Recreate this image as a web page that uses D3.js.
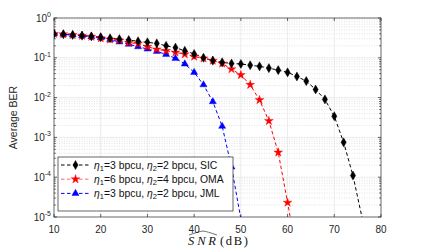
<!DOCTYPE html>
<html><head><meta charset="utf-8">
<script src="https://cdn.jsdelivr.net/npm/d3@7"></script>
<style>body{margin:0;background:#fff}svg{display:block}</style>
</head><body>
<svg id="c" width="422" height="249"></svg>
<script>
const snr = [10,12,14,16,18,20,22,24,26,28,30,32,34,36,38,40,42,44,46,48,50,52,54,56,58,60,62,64,66,68,70,72,74,76];
const berSIC = [0.40,0.39,0.375,0.36,0.345,0.33,0.31,0.295,0.28,0.26,0.245,0.23,0.20,0.18,0.15,0.125,0.10,0.085,0.077,0.072,0.07,0.065,0.061,0.055,0.049,0.043,0.034,0.026,0.016,0.009,0.0034,0.00075,0.00011,0.000009];
const snrOMA = [10,12,14,16,18,20,22,24,26,28,30,32,34,36,38,40,42,44,46,48,50,52,54,56,58,60,62];
const berOMA = [0.40,0.39,0.375,0.36,0.34,0.31,0.29,0.275,0.24,0.226,0.19,0.163,0.15,0.137,0.123,0.107,0.097,0.085,0.072,0.052,0.037,0.021,0.0087,0.0026,0.00042,0.000023,0.0000012];
const snrJML = [10,12,14,16,18,20,22,24,26,28,30,32,34,36,38,40,42,44,46,48,50];
const berJML = [0.40,0.39,0.375,0.36,0.34,0.32,0.285,0.25,0.22,0.19,0.166,0.145,0.122,0.097,0.07,0.043,0.021,0.0079,0.0019,0.00018,0.000009];
const xTicks = [10,20,30,40,50,60,70,80];
const yExps = [0,-1,-2,-3,-4,-5];
const legendLabels = [["3","2","SIC"],["6","4","OMA"],["3","2","JML"]];

const svg = d3.select("#c");
const L=54,R=381,T=18,B=217;
const x = d3.scaleLinear().domain([10,80]).range([L,R]);
const y = d3.scaleLog().domain([1e-5,1]).range([B,T]);

const defs = svg.append("defs");
defs.append("clipPath").attr("id","clip").append("rect").attr("x",L).attr("y",T).attr("width",R-L).attr("height",B-T);

const minor = [];
for (let e=-5;e<0;e++) for (let k=2;k<=9;k++) minor.push(k*Math.pow(10,e));
svg.append("g").selectAll("line").data(minor).join("line")
  .attr("x1",L).attr("x2",R).attr("y1",d=>y(d)).attr("y2",d=>y(d))
  .attr("stroke","#cfcfcf").attr("stroke-width",0.6).attr("stroke-dasharray","1,1.5");
svg.append("g").selectAll("line").data(yExps.slice(1,5)).join("line")
  .attr("x1",L).attr("x2",R).attr("y1",d=>y(Math.pow(10,d))).attr("y2",d=>y(Math.pow(10,d)))
  .attr("stroke","#e6e6e6").attr("stroke-width",0.8);
svg.append("g").selectAll("line").data(xTicks.slice(1,7)).join("line")
  .attr("y1",T).attr("y2",B).attr("x1",d=>x(d)).attr("x2",d=>x(d))
  .attr("stroke","#e6e6e6").attr("stroke-width",0.8);

const ax = svg.append("g").attr("stroke","#262626").attr("stroke-width",0.7);
ax.append("rect").attr("x",L).attr("y",T).attr("width",R-L).attr("height",B-T).attr("fill","none");
xTicks.forEach(t=>{
  ax.append("line").attr("x1",x(t)).attr("x2",x(t)).attr("y1",B).attr("y2",B-3);
  ax.append("line").attr("x1",x(t)).attr("x2",x(t)).attr("y1",T).attr("y2",T+3);
});
yExps.forEach(e=>{
  const yy=y(Math.pow(10,e));
  ax.append("line").attr("x1",L).attr("x2",L+3).attr("y1",yy).attr("y2",yy);
  ax.append("line").attr("x1",R).attr("x2",R-3).attr("y1",yy).attr("y2",yy);
});
minor.forEach(m=>{
  const yy=y(m);
  ax.append("line").attr("x1",L).attr("x2",L+1.8).attr("y1",yy).attr("y2",yy);
  ax.append("line").attr("x1",R).attr("x2",R-1.8).attr("y1",yy).attr("y2",yy);
});

const font = "Liberation Sans, Arial, sans-serif";
svg.append("g").selectAll("text").data(xTicks).join("text")
  .attr("x",d=>x(d)).attr("y",233).attr("text-anchor","middle")
  .attr("font-family",font).attr("font-size",10).attr("fill","#262626").text(d=>d);
yExps.forEach(e=>{
  const t = svg.append("text").attr("x",51).attr("y",y(Math.pow(10,e))+3.5).attr("text-anchor","end")
    .attr("font-family",font).attr("font-size",10).attr("fill","#262626");
  t.append("tspan").text("10");
  t.append("tspan").attr("dy",-4.5).attr("font-size",7).text(e===0?"0":"-"+(-e));
});

svg.append("text").attr("transform",`translate(17,${(T+B)/2}) rotate(-90)`).attr("text-anchor","middle")
  .attr("font-family",font).attr("font-size",10.5).attr("fill","#262626").text("Average BER");

// x label
const serif = "Liberation Serif, DejaVu Serif, serif";
svg.append("text").attr("x",188).attr("y",245).attr("font-family",serif).attr("font-style","italic")
  .attr("font-size",12.5).attr("fill","#111").attr("textLength",28).attr("lengthAdjust","spacing").text("SNR");
svg.append("text").attr("x",220).attr("y",245).attr("font-family",serif)
  .attr("font-size",12.5).attr("fill","#111").attr("textLength",28).attr("lengthAdjust","spacing").text("(dB)");
svg.append("path").attr("d","M189,235 Q199,231.5 203,231 Q207,231.5 217,235").attr("fill","none").attr("stroke","#111").attr("stroke-width",0.6);

const series = [
  {xs:snr, ys:berSIC, color:"#000", shape:"diamond"},
  {xs:snrOMA, ys:berOMA, color:"#ff0000", shape:"star"},
  {xs:snrJML, ys:berJML, color:"#0000ff", shape:"triangle"}
];
const sym = {diamond:d3.symbolDiamond, star:d3.symbolStar, triangle:d3.symbolTriangle};
const size = {diamond:24, star:24, triangle:22};
const g = svg.append("g").attr("clip-path","url(#clip)");
const line = d3.line().x(d=>x(d[0])).y(d=>y(d[1]));
series.forEach(s=>{
  const pts = s.xs.map((v,i)=>[v,s.ys[i]]);
  g.append("path").datum(pts).attr("d",line).attr("fill","none").attr("stroke",s.color)
    .attr("stroke-width",1).attr("stroke-dasharray","3.5,2.5");
});
series.slice().reverse().forEach(s=>{
  const pts = s.xs.map((v,i)=>[v,s.ys[i]]).filter(p=>p[1]>=1e-5);
  g.selectAll(null).data(pts).join("path")
    .attr("transform",p=>`translate(${x(p[0])},${y(p[1])})`)
    .attr("d",d3.symbol().type(sym[s.shape]).size(size[s.shape])).attr("fill",s.color).attr("stroke",s.color).attr("stroke-width",0.4);
});

const lg = svg.append("g");
lg.append("rect").attr("x",58).attr("y",157).attr("width",175).attr("height",54).attr("fill","#fff").attr("stroke","#262626").attr("stroke-width",0.7);
legendLabels.forEach((lab,i)=>{
  const s = series[i];
  const yy = 165+i*14.2;
  lg.append("line").attr("x1",61).attr("x2",90).attr("y1",yy).attr("y2",yy).attr("stroke",s.color).attr("stroke-width",1).attr("stroke-dasharray","3.5,2.5").attr("opacity",i===1?0.6:1);
  lg.append("path").attr("transform",`translate(75.5,${yy})`).attr("d",d3.symbol().type(sym[s.shape]).size(size[s.shape])).attr("fill",s.color).attr("stroke",s.color).attr("stroke-width",0.4);
  const t = lg.append("text").attr("x",94).attr("y",yy+3.5).attr("font-family",font).attr("font-size",10.4).attr("fill","#111");
  t.append("tspan").attr("font-style","italic").text("η");
  t.append("tspan").attr("font-size",7.5).attr("dy",2.5).text("1");
  t.append("tspan").attr("dy",-2.5).text("="+lab[0]+" bpcu, ");
  t.append("tspan").attr("font-style","italic").text("η");
  t.append("tspan").attr("font-size",7.5).attr("dy",2.5).text("2");
  t.append("tspan").attr("dy",-2.5).text("="+lab[1]+" bpcu, "+lab[2]);
});
</script>
</body></html>
